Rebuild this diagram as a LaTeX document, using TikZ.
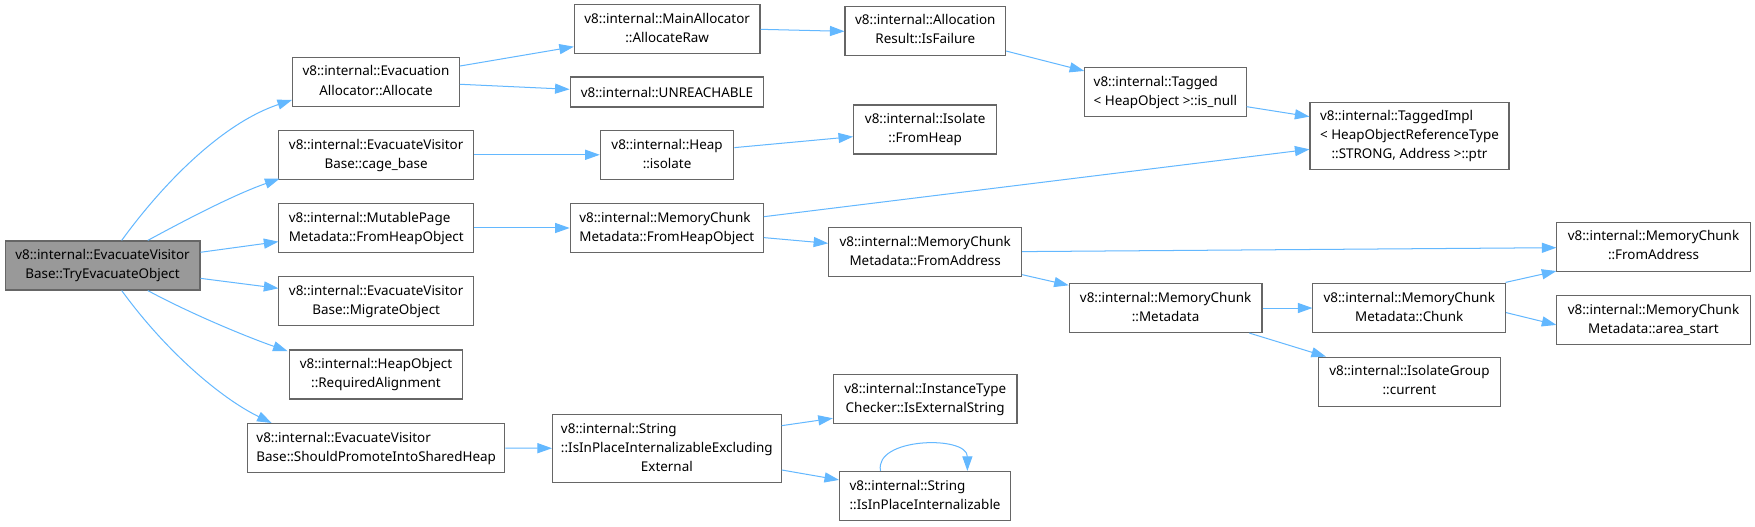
\documentclass[tikz,border=0pt]{standalone}
\usepackage{fontspec}
\setmainfont{Noto Sans}
\usetikzlibrary{arrows.meta}
\definecolor{edgeblue}{HTML}{63B8FF}
\definecolor{boxgray}{HTML}{666666}
\definecolor{rootfill}{HTML}{999999}
\newcommand{\twol}[2]{\begin{tabular}{@{}l@{}}#1\\\multicolumn{1}{@{}c@{}}{#2}\end{tabular}}
\newcommand{\threel}[3]{\begin{tabular}{@{}l@{}}#1\\#2\\\multicolumn{1}{@{}c@{}}{#3}\end{tabular}}
\begin{document}
\begin{tikzpicture}[x=1pt,y=-1pt,
  box/.style={draw=boxgray, line width=0.95pt, fill=white, inner sep=0pt, minimum height=43.8pt, font=\fontsize{12}{17}\selectfont},
  rootbox/.style={box, fill=rootfill},
  edge/.style={draw=edgeblue, line width=0.9pt, -{Triangle[length=13pt,width=9pt]}}]
\fill[white] (0,0) rectangle (1568,470);
\useasboundingbox (0,0) rectangle (1568,470);
% column 1
\node[rootbox, minimum width=174.2pt] (T) at (91.6,237.2) {\twol{v8::internal::EvacuateVisitor}{Base::TryEvacuateObject}};
% column 2
\node[box, minimum width=149pt] (Alloc) at (335.9,73) {\twol{v8::internal::Evacuation}{Allocator::Allocate}};
\node[box, minimum width=173.8pt] (Cage) at (336.1,138.3) {\twol{v8::internal::EvacuateVisitor}{Base::cage\_base}};
\node[box, minimum width=173.8pt] (Mut) at (336.1,203.7) {\twol{v8::internal::MutablePage}{Metadata::FromHeapObject}};
\node[box, minimum width=173.8pt] (Mig) at (336.1,269.1) {\twol{v8::internal::EvacuateVisitor}{Base::MigrateObject}};
\node[box, minimum width=155pt] (Req) at (335.9,334.6) {\twol{v8::internal::HeapObject}{::RequiredAlignment}};
\node[box, minimum width=230pt] (Should) at (336.1,400.3) {\twol{v8::internal::EvacuateVisitor}{Base::ShouldPromoteIntoSharedHeap}};
% column 3
\node[box, minimum width=165.8pt] (Raw) at (596.1,26.2) {\twol{v8::internal::MainAllocator}{::AllocateRaw}};
\node[box, minimum width=173pt, minimum height=26.8pt] (Unr) at (595.9,82.2) {v8::internal::UNREACHABLE};
\node[box, minimum width=119.3pt] (Heap) at (596,138.3) {\twol{v8::internal::Heap}{::isolate}};
\node[box, minimum width=172.6pt] (MFHO) at (595.7,203.7) {\twol{v8::internal::MemoryChunk}{Metadata::FromHeapObject}};
\node[box, minimum width=204.3pt, minimum height=60.7pt] (Str) at (595.8,400.5) {\threel{v8::internal::String}{::IsInPlaceInternalizableExcluding}{External}};
% column 4
\node[box, minimum width=143.5pt] (Fail) at (826.7,27.4) {\twol{v8::internal::Allocation}{Result::IsFailure}};
\node[box, minimum width=127.9pt] (Iso) at (826.6,115.7) {\twol{v8::internal::Isolate}{::FromHeap}};
\node[box, minimum width=172.4pt] (MFA) at (826.6,225.3) {\twol{v8::internal::MemoryChunk}{Metadata::FromAddress}};
\node[box, minimum width=164.1pt] (ITC) at (826.6,356.3) {\twol{v8::internal::InstanceType}{Checker::IsExternalString}};
\node[box, minimum width=152.8pt] (IPI) at (826.5,443.1) {\twol{v8::internal::String}{::IsInPlaceInternalizable}};
% column 5
\node[box, minimum width=144.1pt] (Tag) at (1041.2,82.3) {\twol{v8::internal::Tagged}{< HeapObject >::is\_null}};
\node[box, minimum width=172.2pt] (Meta) at (1041.4,275.2) {\twol{v8::internal::MemoryChunk}{::Metadata}};
% column 6
\node[box, minimum width=177.8pt, minimum height=60.5pt] (Impl) at (1259.3,121.6) {\threel{v8::internal::TaggedImpl}{< HeapObjectReferenceType}{::STRONG, Address >::ptr}};
\node[box, minimum width=172.1pt] (Chunk) at (1259.1,275.2) {\twol{v8::internal::MemoryChunk}{Metadata::Chunk}};
\node[box, minimum width=162.3pt] (IG) at (1259.2,341) {\twol{v8::internal::IsolateGroup}{::current}};
% column 7
\node[box, minimum width=172.6pt] (MCFA) at (1477.3,220.3) {\twol{v8::internal::MemoryChunk}{::FromAddress}};
\node[box, minimum width=172.6pt] (Area) at (1477.3,286) {\twol{v8::internal::MemoryChunk}{Metadata::area\_start}};
% edges from root
\draw[edge] ([xshift=17.1pt]T.north) .. controls +(40,-55) and +(-60,20) .. ([yshift=-16.3pt]Alloc.west);
\draw[edge] ([xshift=40.4pt]T.north) .. controls +(35,-19) and +(-40,14) .. ([xshift=1pt,yshift=1pt]Cage.south west);
\draw[edge] ([yshift=11.8pt]T.east) -- ([yshift=-12.2pt]Mut.west);
\draw[edge] ([yshift=-11.5pt]T.east) -- ([yshift=11.5pt]Mig.west);
\draw[edge] ([xshift=40.4pt]T.south) .. controls +(35,19) and +(-40,-14) .. ([xshift=-1pt,yshift=-1.5pt]Req.north west);
\draw[edge] ([xshift=17.1pt]T.south) .. controls +(40,55) and +(-45,-22) .. ([xshift=-93.4pt]Should.north);
% other edges
\draw[edge] ([yshift=14pt]Alloc.east) -- ([yshift=-15.5pt]Raw.west);
\draw[edge] ([yshift=-2.3pt]Alloc.east) -- ([yshift=2.4pt]Unr.west);
\draw[edge] (Raw.east) -- ([yshift=-0.6pt]Fail.west);
\draw[edge] ([yshift=-18.2pt]Fail.east) -- ([yshift=18.9pt]Tag.west);
\draw[edge] ([yshift=-13pt]Tag.east) -- ([yshift=17.4pt]Impl.west);
\draw[edge] (Cage.east) -- (Heap.west);
\draw[edge] ([yshift=6.4pt]Heap.east) -- ([yshift=-6.4pt]Iso.west);
\draw[edge] (Mut.east) -- (MFHO.west);
\draw[edge] ([yshift=10.1pt]MFHO.east) -- ([yshift=-11.8pt]Impl.west);
\draw[edge] ([yshift=-8.6pt]MFHO.east) -- ([yshift=7.9pt]MFA.west);
\draw[edge] ([yshift=0.5pt]MFA.east) -- ([yshift=-1pt]MCFA.west);
\draw[edge] ([yshift=-20.1pt]MFA.east) -- ([yshift=20.3pt]Meta.west);
\draw[edge] (Meta.east) -- (Chunk.west);
\draw[edge] ([xshift=74.8pt]Meta.south) -- ([xshift=-74.5pt]IG.north);
\draw[edge] ([xshift=-0.5pt,yshift=0.5pt]Chunk.north east) -- ([yshift=0.5pt]MCFA.south west);
\draw[edge] ([yshift=-4.1pt]Chunk.east) -- ([yshift=-4.3pt]Area.west);
\draw[edge] (Should.east) -- (Str.west);
\draw[edge] ([yshift=20.2pt]Str.east) -- ([yshift=-17.4pt]ITC.west);
\draw[edge] ([yshift=-19.4pt]Str.east) -- ([yshift=14.3pt]IPI.west);
\draw[edge] ([xshift=-39.8pt]IPI.north) .. controls +(-6,-30) and +(0,-32) .. ([xshift=37.8pt]IPI.north);
\end{tikzpicture}
\end{document}
